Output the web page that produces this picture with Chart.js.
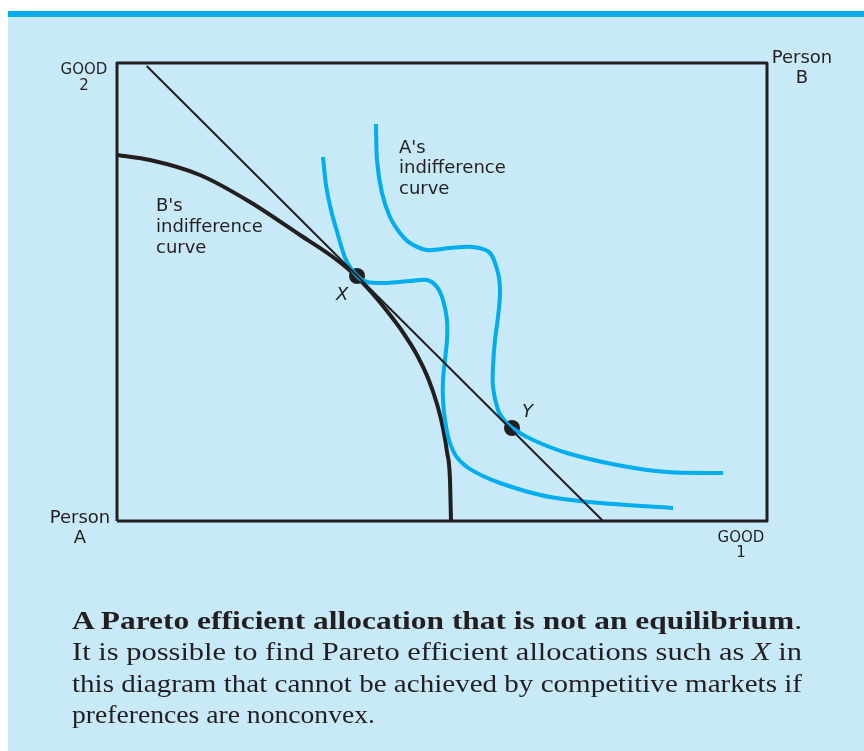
<!DOCTYPE html>
<html>
<head>
<meta charset="utf-8">
<script src="https://cdn.jsdelivr.net/npm/chart.js@4/dist/chart.umd.min.js"></script>
<style>
  html, body { margin: 0; padding: 0; background: #ffffff; }
  #wrap { position: relative; width: 864px; height: 751px; overflow: hidden; }
  #bar { position: absolute; left: 8px; top: 11px; width: 856px; height: 6px; background: #00AEEF; }
  #panel { position: absolute; left: 8px; top: 17px; width: 856px; height: 734px; background: #C7E9F8; }
  #c { position: absolute; left: 0; top: 0; }
  .cap { position: absolute; left: 72px; font-family: "Liberation Serif", serif; font-size: 24.5px; color: #231F20; white-space: nowrap; line-height: 32px; transform-origin: 0 0; }
</style>
</head>
<body>
<div id="wrap">
  <div id="bar"></div>
  <div id="panel"></div>
  <canvas id="c" width="864" height="751"></canvas>
  <div class="cap" data-w="730" style="top:605px;"><b>A Pareto efficient allocation that is not an equilibrium</b>.</div>
  <div class="cap" data-w="730" style="top:636px;">It is possible to find Pareto efficient allocations such as <i>X</i> in</div>
  <div class="cap" data-w="730" style="top:668px;">this diagram that cannot be achieved by competitive markets if</div>
  <div class="cap" data-w="303" style="top:699px;">preferences are nonconvex.</div>
</div>
<script>
// Box extent (good 1 on x, good 2 on y)
const boxX = [0, 0, 650, 650, 0];
const boxY = [0, 458, 458, 0, 0];

// Budget (price) line
const budgetX = [29.7, 486];
const budgetY = [455, 0];

// B's indifference curve
const bCurveX = [0, 33, 83, 133, 183, 216, 240, 255, 270, 285, 300, 311, 320, 326, 330, 333, 334];
const bCurveY = [366, 361, 346, 319, 286, 264, 244, 228, 210, 190, 166, 143, 117, 93, 69, 41, 0];

// A's indifference curve through X
const a1X = [206, 209, 214, 221, 229, 240, 250, 270, 293, 310, 320, 326, 330, 330, 328, 326, 326, 328, 332, 339, 350, 366, 383, 408, 433, 483, 556];
const a1Y = [364, 336, 311, 286, 261, 245, 239, 238, 240, 241, 234, 221, 201, 181, 161, 141, 121, 101, 81, 65, 54, 45, 38, 30, 24, 18, 13];

// A's indifference curve through Y
const a2X = [259, 260, 265, 273, 283, 293, 310, 333, 356, 373, 381, 383, 381, 378, 376, 376, 381, 387, 395, 416, 450, 500, 550, 606];
const a2Y = [397, 361, 328, 304, 288, 278, 271, 273, 274, 268, 248, 228, 204, 181, 154, 134, 111, 101, 93, 81, 68, 56, 49, 48];

// Allocations
const ptLabels = ["X", "Y"];
const ptX = [240, 395];
const ptY = [245, 93];

const pts = (xs, ys) => xs.map((x, i) => ({ x: x, y: ys[i] }));
const BLACK = "#231F20", BLUE = "#00AEEF";

// widen caption lines (Computer Modern is wider than Times) to the measured widths
document.querySelectorAll(".cap").forEach(el => {
  const target = parseFloat(el.dataset.w);
  const w = el.getBoundingClientRect().width;
  el.style.transform = "scaleX(" + (target / w) + ")";
});

const labelsPlugin = {
  id: "labels",
  afterDatasetsDraw(chart) {
    const ctx = chart.ctx;
    ctx.save();
    ctx.fillStyle = BLACK;
    ctx.textBaseline = "alphabetic";
    const sans = '"DejaVu Sans", sans-serif';
    ctx.textAlign = "center";
    ctx.font = "15px " + sans;
    ctx.fillText("GOOD", 84, 74);
    ctx.fillText("2", 84, 90);
    ctx.fillText("GOOD", 741, 542);
    ctx.fillText("1", 741, 557);
    ctx.font = "18px " + sans;
    ctx.fillText("Person", 802, 63);
    ctx.fillText("B", 802, 83);
    ctx.fillText("Person", 80, 523);
    ctx.fillText("A", 80, 543);
    ctx.textAlign = "left";
    ["A's", "indifference", "curve"].forEach((t, i) => ctx.fillText(t, 399, 152.5 + i * 20.5));
    ["B's", "indifference", "curve"].forEach((t, i) => ctx.fillText(t, 156, 211 + i * 21));
    ctx.font = "oblique 18px " + sans;
    const xs = chart.scales.x, ys = chart.scales.y;
    ctx.fillText(ptLabels[0], xs.getPixelForValue(ptX[0]) - 21, ys.getPixelForValue(ptY[0]) + 24);
    ctx.fillText(ptLabels[1], xs.getPixelForValue(ptX[1]) + 10, ys.getPixelForValue(ptY[1]) - 11);
    ctx.restore();
  }
};

const lineDs = (data, color, width, tension, mono) => ({
  data: data, showLine: true, borderColor: color, borderWidth: width,
  pointRadius: 0, pointHoverRadius: 0, tension: tension, clip: false, fill: false,
  cubicInterpolationMode: mono ? "monotone" : "default",
  borderCapStyle: "butt", borderJoinStyle: "round"
});

new Chart(document.getElementById("c"), {
  type: "scatter",
  data: {
    datasets: [
      lineDs(pts(boxX, boxY), BLACK, 3, 0, false),
      lineDs(pts(budgetX, budgetY), BLACK, 2, 0, false),
      lineDs(pts(a1X, a1Y), BLUE, 4, 0.3, false),
      lineDs(pts(a2X, a2Y), BLUE, 4, 0.3, false),
      lineDs(pts(bCurveX, bCurveY), BLACK, 4, 0.4, true),
      { data: pts(ptX, ptY), showLine: false, pointRadius: 8, pointBackgroundColor: BLACK,
        pointBorderColor: BLACK, pointBorderWidth: 0, clip: false }
    ]
  },
  options: {
    responsive: false,
    animation: false,
    devicePixelRatio: 1,
    layout: { padding: { left: 117, top: 63, right: 97, bottom: 230 } },
    plugins: { legend: { display: false }, tooltip: { enabled: false } },
    scales: {
      x: { type: "linear", min: 0, max: 650, display: false },
      y: { type: "linear", min: 0, max: 458, display: false }
    }
  },
  plugins: [labelsPlugin]
});
</script>
</body>
</html>
